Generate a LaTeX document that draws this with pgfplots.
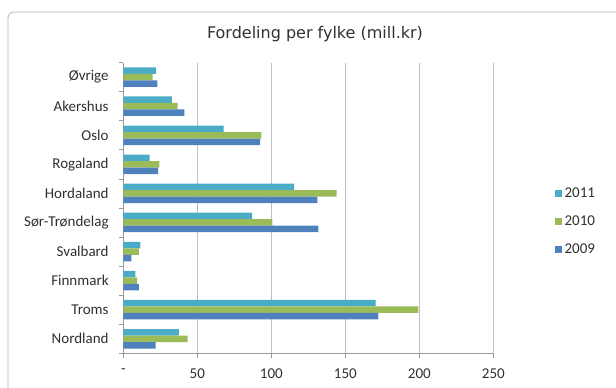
\documentclass[border=0pt]{standalone}
\usepackage{fontspec}
\setmainfont{Carlito}
\newfontfamily\titlefont{DejaVu Sans}
\usepackage{pgfplots}
\pgfplotsset{compat=1.18}
\definecolor{c2011}{HTML}{4BACC6}
\definecolor{c2010}{HTML}{9BBB59}
\definecolor{c2009}{HTML}{4F81BD}
\definecolor{gridc}{HTML}{BFBFBF}
\definecolor{axc}{HTML}{9A9A9A}
\definecolor{txt}{HTML}{303030}
\begin{document}
\begin{tikzpicture}
\useasboundingbox (0,0) rectangle (616bp,388bp);
\draw[gray!60, line width=0.8bp, rounded corners=6bp] (8bp,-5bp) -- (8bp,376bp) -- (625bp,376bp);
\node[anchor=base, text=txt, font=\titlefont\fontsize{16bp}{19bp}\selectfont] at (315bp,349bp) {Fordeling per fylke (mill.kr)};
\begin{axis}[
  at={(123.3bp,34.7bp)}, anchor=south west,
  scale only axis, width=370bp, height=290.7bp,
  xmin=0, xmax=250, ymin=-0.5, ymax=9.5,
  xbar, bar width=6.5bp,
  axis line style={axc, line width=0.7bp},
  axis x line*=bottom, axis y line*=left,
  xtick={0,50,100,150,200,250},
  xticklabels={{-},50,100,150,200,250},
  xmajorgrids, major grid style={gridc, line width=0.7bp},
  tick style={axc, line width=0.7bp},
  tick align=outside, major tick length=4.5bp,
  ytick={-0.5,0.5,...,9.5},
  y tick label as interval,
  yticklabels={Nordland,Troms,Finnmark,Svalbard,Sør-Trøndelag,Hordaland,Rogaland,Oslo,Akershus,Øvrige},
  tick label style={font=\fontsize{15bp}{18bp}\selectfont, text=txt},
  yticklabel style={inner sep=0pt, anchor=east, xshift=-10bp},
  xticklabel style={inner sep=0pt, anchor=north, yshift=-10.5bp},
  legend style={draw=none, fill=none, at={(1.157,0.579)}, anchor=north west,
    font=\fontsize{15bp}{18bp}\selectfont, text=txt, row sep=14.5bp,
    nodes={inner sep=1bp}},
  legend cell align=left,
  legend image code/.code={\fill[#1] (0bp,-3.5bp) rectangle (7bp,3.5bp);\path (9bp,0bp);},
]
\addplot[fill=c2011, draw=none, bar shift=6.5bp] coordinates {
(37.6,0) (170.5,1) (8.1,2) (11.5,3) (87.0,4) (115.5,5) (17.8,6) (67.8,7) (32.9,8) (22.1,9)};
\addlegendentry{2011}
\addplot[fill=c2010, draw=none, bar shift=0bp] coordinates {
(43.5,0) (199.3,1) (9.3,2) (10.6,3) (100.7,4) (144.2,5) (24.3,6) (93.3,7) (36.7,8) (19.8,9)};
\addlegendentry{2010}
\addplot[fill=c2009, draw=none, bar shift=-6.5bp] coordinates {
(21.9,0) (172.3,1) (10.6,2) (5.4,3) (131.8,4) (131.1,5) (23.6,6) (92.4,7) (41.2,8) (23.0,9)};
\addlegendentry{2009}
\end{axis}
\end{tikzpicture}
\end{document}
